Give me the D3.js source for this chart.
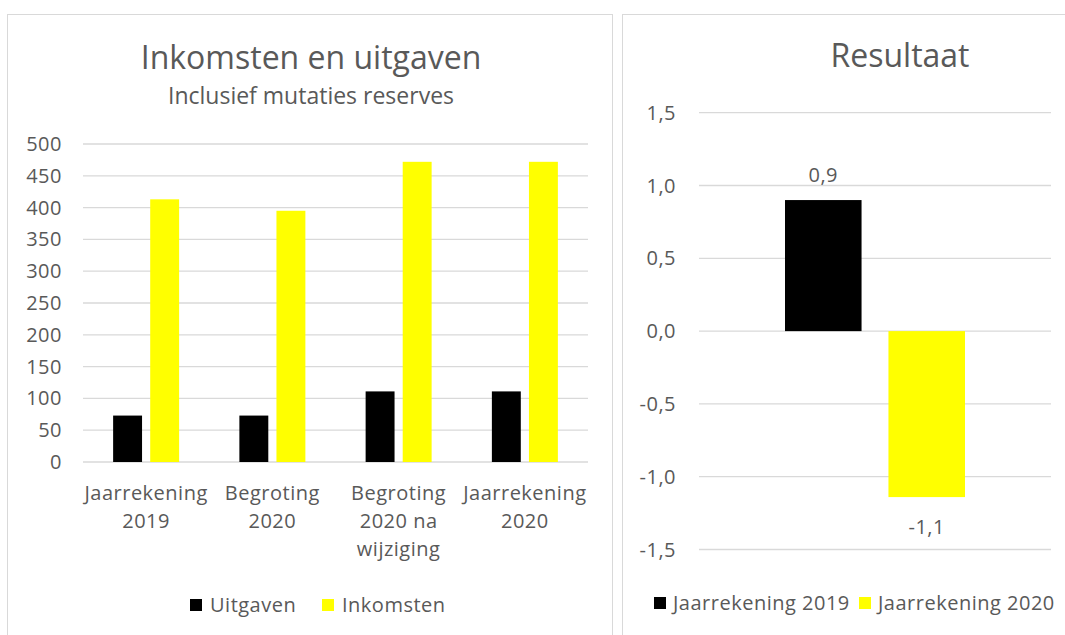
<!DOCTYPE html>
<html>
<head>
<meta charset="utf-8">
<script src="https://cdn.jsdelivr.net/npm/d3@7"></script>
<style>
  body { margin: 0; background: #fff; }
  svg { display: block; font-family: "Open Sans", Lato, sans-serif; }
  .grid line { stroke: #d9d9d9; stroke-width: 1.3; }
  .tick-label { fill: #595959; font-size: 20px; letter-spacing: 0.5px; }
  .title { fill: #595959; }
</style>
</head>
<body>
<svg id="chart"></svg>
<script>
// left chart data
const categories = ["Jaarrekening 2019", "Begroting 2020", "Begroting 2020 na wijziging", "Jaarrekening 2020"];
const seriesNames = ["Uitgaven", "Inkomsten"];
const uitgaven = [73, 73, 111, 111];
const inkomsten = [413, 395, 472, 472];
const leftTicks = [0, 50, 100, 150, 200, 250, 300, 350, 400, 450, 500];

// right chart data
const resultNames = ["Jaarrekening 2019", "Jaarrekening 2020"];
const resultValues = [0.9, -1.14];
const rightTicks = [-1.5, -1.0, -0.5, 0.0, 0.5, 1.0, 1.5];

const colors = ["#000000", "#ffff00"];

const nl = d3.formatLocale({ decimal: ",", thousands: ".", grouping: [3], currency: ["€", ""], minus: "-" });
const fmt1 = nl.format(".1f");

const svg = d3.select("#chart").attr("width", 1065).attr("height", 635);

// panel borders
svg.append("rect").attr("x", 7.5).attr("y", 14.5).attr("width", 605).attr("height", 640)
  .attr("fill", "none").attr("stroke", "#d9d9d9");
svg.append("rect").attr("x", 622.5).attr("y", 14.5).attr("width", 460).attr("height", 640)
  .attr("fill", "none").attr("stroke", "#d9d9d9");

function wrap(text, width) {
  text.each(function () {
    const t = d3.select(this);
    const words = t.text().split(/\s+/);
    const x = t.attr("x");
    t.text(null);
    let line = [];
    let tspan = t.append("tspan").attr("x", x).attr("dy", 0);
    words.forEach(w => {
      line.push(w);
      tspan.text(line.join(" "));
      if (tspan.node().getComputedTextLength() > width && line.length > 1) {
        line.pop();
        tspan.text(line.join(" "));
        line = [w];
        tspan = t.append("tspan").attr("x", x).attr("dy", "28px").text(w);
      }
    });
  });
}

// ---------- left chart ----------
const left = svg.append("g");

left.append("text").attr("class", "title")
  .attr("x", 311).attr("y", 69).attr("text-anchor", "middle")
  .style("font-size", "32px").text("Inkomsten en uitgaven");
left.append("text").attr("class", "title")
  .attr("x", 311).attr("y", 104).attr("text-anchor", "middle")
  .style("font-size", "23px").text("Inclusief mutaties reserves");

const xL = d3.scaleBand().domain(categories).range([83, 588]).padding(0);
const yL = d3.scaleLinear().domain([0, 500]).range([462, 144]);
const xSub = d3.scaleBand().domain(seriesNames)
  .range([-33, 33]).paddingInner(0.22);

left.append("g").attr("class", "grid")
  .selectAll("line").data(leftTicks).join("line")
  .attr("x1", 83).attr("x2", 588)
  .attr("y1", d => yL(d)).attr("y2", d => yL(d));

left.append("g").selectAll("text").data(leftTicks).join("text")
  .attr("class", "tick-label")
  .attr("x", 62).attr("y", d => yL(d)).attr("dy", "0.35em")
  .attr("text-anchor", "end").text(d => d);

const leftSeries = [uitgaven, inkomsten];
seriesNames.forEach((s, i) => {
  left.append("g").selectAll("rect").data(categories).join("rect")
    .attr("x", c => xL(c) + xL.bandwidth() / 2 + xSub(s))
    .attr("width", xSub.bandwidth())
    .attr("y", (c, j) => yL(leftSeries[i][j]))
    .attr("height", (c, j) => yL(0) - yL(leftSeries[i][j]))
    .attr("fill", colors[i]);
});

left.append("g").selectAll("text").data(categories).join("text")
  .attr("class", "tick-label")
  .attr("x", c => xL(c) + xL.bandwidth() / 2)
  .attr("y", 500).attr("text-anchor", "middle")
  .text(c => c)
  .call(wrap, 127);

// legend left
const legL = left.append("g");
const legLPos = [190, 322];
seriesNames.forEach((s, i) => {
  legL.append("rect").attr("x", legLPos[i]).attr("y", 599).attr("width", 12).attr("height", 12).attr("fill", colors[i]);
  legL.append("text").attr("class", "tick-label").attr("x", legLPos[i] + 20).attr("y", 605)
    .attr("dy", "0.35em").text(s);
});

// ---------- right chart ----------
const right = svg.append("g");

right.append("text").attr("class", "title")
  .attr("x", 900).attr("y", 67).attr("text-anchor", "middle")
  .style("font-size", "32px").text("Resultaat");

const xR = d3.scaleBand().domain(resultNames).range([785, 965]).paddingInner(0.26);
const yR = d3.scaleLinear().domain([-1.5, 1.5]).range([549.5, 112.7]);

right.append("g").attr("class", "grid")
  .selectAll("line").data(rightTicks).join("line")
  .attr("x1", 699).attr("x2", 1051)
  .attr("y1", d => yR(d)).attr("y2", d => yR(d));

right.append("g").selectAll("text").data(rightTicks).join("text")
  .attr("class", "tick-label")
  .attr("x", 676).attr("y", d => yR(d)).attr("dy", "0.35em")
  .attr("text-anchor", "end").text(d => fmt1(d));

right.append("g").selectAll("rect").data(resultNames).join("rect")
  .attr("x", d => xR(d))
  .attr("width", xR.bandwidth())
  .attr("y", (d, i) => yR(Math.max(0, resultValues[i])))
  .attr("height", (d, i) => Math.abs(yR(resultValues[i]) - yR(0)))
  .attr("fill", (d, i) => colors[i]);

right.append("g").selectAll("text").data(resultNames).join("text")
  .attr("class", "tick-label")
  .attr("x", d => xR(d) + xR.bandwidth() / 2)
  .attr("y", (d, i) => resultValues[i] >= 0 ? yR(resultValues[i]) - 25 : yR(resultValues[i]) + 30)
  .attr("dy", "0.35em").attr("text-anchor", "middle")
  .text((d, i) => fmt1(resultValues[i]));

const legR = right.append("g");
const legRPos = [654, 859];
resultNames.forEach((s, i) => {
  legR.append("rect").attr("x", legRPos[i]).attr("y", 597).attr("width", 12).attr("height", 12).attr("fill", colors[i]);
  legR.append("text").attr("class", "tick-label").attr("x", legRPos[i] + 19).attr("y", 603)
    .attr("dy", "0.35em").text(s);
});
</script>
</body>
</html>
